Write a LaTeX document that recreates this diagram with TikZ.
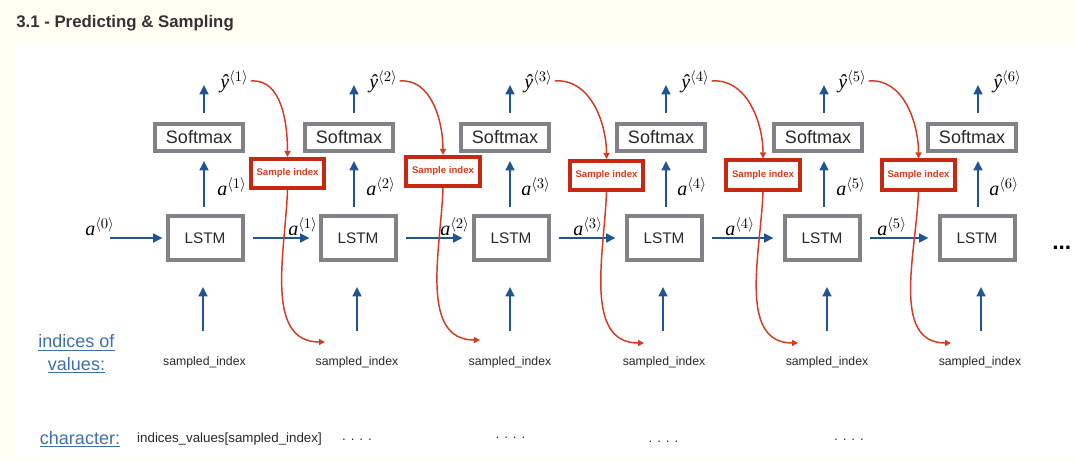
\documentclass[tikz,border=0pt]{standalone}
\usepackage{fontspec}
\setmainfont{Liberation Sans}
\newfontfamily\labelserif{Liberation Serif}
\usetikzlibrary{arrows.meta, positioning, calc}

\definecolor{pagecream}{RGB}{255,255,243}
\definecolor{boxgray}{RGB}{128,130,136}
\definecolor{txtgray}{RGB}{40,40,40}
\definecolor{titlegray}{RGB}{51,51,51}
\definecolor{flowblue}{RGB}{33,85,145}
\definecolor{samplered}{RGB}{198,40,18}
\definecolor{curvered}{RGB}{214,58,34}
\definecolor{linkblue}{RGB}{62,112,172}

\newcommand{\stepvar}[2]{{\labelserif\itshape #1}$^{\langle #2\rangle}$}

\begin{document}
\begin{tikzpicture}[
    x=0.75pt, y=-0.75pt,
    cell/.style={rectangle, draw=boxgray, line width=3pt, minimum width=56.25pt, minimum height=33pt, inner sep=0pt, text=txtgray, font=\fontsize{11.5}{13}\selectfont},
    softmax/.style={rectangle, draw=boxgray, line width=3pt, minimum width=66pt, minimum height=20.25pt, inner sep=0pt, text=txtgray, font=\fontsize{13.5}{15}\selectfont},
    sampler/.style={rectangle, draw=samplered, line width=2.8pt, minimum width=55pt, minimum height=22pt, inner sep=0pt, text=curvered, font=\bfseries\fontsize{7.2}{8}\selectfont},
    mathlbl/.style={anchor=base west, inner sep=0pt, font=\fontsize{15}{17}\selectfont},
    idxlbl/.style={inner sep=0pt, text=txtgray, font=\fontsize{9.2}{11}\selectfont},
    linklbl/.style={inner sep=0pt, text=linkblue, font=\fontsize{13.5}{16.9}\selectfont},
    flow/.style={draw=flowblue, line width=2pt, -{Triangle[length=7pt,width=6.5pt]}},
    pick/.style={draw=curvered, line width=1.1pt, -{Triangle[length=4.5pt,width=4.5pt]}}
]

% page and panel
\useasboundingbox (0,0) rectangle (1075,461);
\fill[pagecream] (0,0) rectangle (1075,461);
\fill[white] (16,46) rectangle (1075,457);
\node (title) [anchor=base west, inner sep=0pt, text=titlegray, font=\bfseries\fontsize{12.6}{15}\selectfont] at (16,27.3) {3.1 - Predicting \& Sampling};

% cells
\node (lstm1) [cell] at (205,238) {LSTM};
\node (lstm2) [cell] at (358,238) {LSTM};
\node (lstm3) [cell] at (511,238) {LSTM};
\node (lstm4) [cell] at (664,238) {LSTM};
\node (lstm5) [cell] at (822,238) {LSTM};
\node (lstm6) [cell] at (977,238) {LSTM};

\node (sm1) [softmax] at (199,137.5) {Softmax};
\node (sm2) [softmax] at (349,137.5) {Softmax};
\node (sm3) [softmax] at (505,137.5) {Softmax};
\node (sm4) [softmax] at (661,137.5) {Softmax};
\node (sm5) [softmax] at (818,137.5) {Softmax};
\node (sm6) [softmax] at (972,137.5) {Softmax};

\node (samp1) [sampler] at (287.5,173.5) {Sample index};
\node (samp2) [sampler] at (443,171.5) {Sample index};
\node (samp3) [sampler] at (606.5,175.5) {Sample index};
\node (samp4) [sampler] at (763,175) {Sample index};
\node (samp5) [sampler] at (918.5,175) {Sample index};

% labels
\node (yh1) [mathlbl] at (220,88) {\stepvar{ŷ}{1}};
\node (yh2) [mathlbl] at (369,88) {\stepvar{ŷ}{2}};
\node (yh3) [mathlbl] at (524,88) {\stepvar{ŷ}{3}};
\node (yh4) [mathlbl] at (681,88) {\stepvar{ŷ}{4}};
\node (yh5) [mathlbl] at (838,88) {\stepvar{ŷ}{5}};
\node (yh6) [mathlbl] at (993,88) {\stepvar{ŷ}{6}};

\node (aup1) [mathlbl] at (217,195) {\stepvar{a}{1}};
\node (aup2) [mathlbl] at (366,195) {\stepvar{a}{2}};
\node (aup3) [mathlbl] at (521,195) {\stepvar{a}{3}};
\node (aup4) [mathlbl] at (677,195) {\stepvar{a}{4}};
\node (aup5) [mathlbl] at (836,195) {\stepvar{a}{5}};
\node (aup6) [mathlbl] at (989,195) {\stepvar{a}{6}};

\node (ah0) [mathlbl] at (85,235.7) {\stepvar{a}{0}};
\node (ah1) [mathlbl] at (288,235.7) {\stepvar{a}{1}};
\node (ah2) [mathlbl] at (440,235) {\stepvar{a}{2}};
\node (ah3) [mathlbl] at (573,235.7) {\stepvar{a}{3}};
\node (ah4) [mathlbl] at (725,235) {\stepvar{a}{4}};
\node (ah5) [mathlbl] at (877,235.7) {\stepvar{a}{5}};

\node (more) [anchor=base west, inner sep=0pt, font=\bfseries\fontsize{17}{20}\selectfont] at (1052,249.5) {...};

\node (si1) [idxlbl] at (204.5,362.5) {sampled\_index};
\node (si2) [idxlbl] at (357,362.5) {sampled\_index};
\node (si3) [idxlbl] at (510,362.5) {sampled\_index};
\node (si4) [idxlbl] at (664,362.5) {sampled\_index};
\node (si5) [idxlbl] at (827,362.5) {sampled\_index};
\node (si6) [idxlbl] at (980,362.5) {sampled\_index};

\node (idxhead) [linklbl, align=center] at (76.5,354) {\underline{indices of}\\\underline{values:}};
\node (charhead) [linklbl] at (80,439.5) {\underline{character:}};
\node (charval) [idxlbl, font=\fontsize{10}{12}\selectfont] at (229.5,439) {indices\_values[sampled\_index]};
\node (dots1) [idxlbl, font=\fontsize{10}{12}\selectfont] at (357,439.5) {. . . .};
\node (dots2) [idxlbl, font=\fontsize{10}{12}\selectfont] at (510.5,437.7) {. . . .};
\node (dots3) [idxlbl, font=\fontsize{10}{12}\selectfont] at (663.5,441.6) {. . . .};
\node (dots4) [idxlbl, font=\fontsize{10}{12}\selectfont] at (849,440) {. . . .};

% arrow ends
\coordinate (in0) at (110,238);
\coordinate (out1) at (204,85);
\coordinate (out2) at (354,85);
\coordinate (out3) at (510,85);
\coordinate (out4) at (666,85);
\coordinate (out5) at (824,85);
\coordinate (out6) at (978,85);
\coordinate (in1) at (203,331);
\coordinate (in2) at (357,331);
\coordinate (in3) at (510,331);
\coordinate (in4) at (663,331);
\coordinate (in5) at (827,331);
\coordinate (in6) at (981,331);
\coordinate (tip1) at (325,342);
\coordinate (tip2) at (480,340);
\coordinate (tip3) at (644,343);
\coordinate (tip4) at (798,343);
\coordinate (tip5) at (951,343);

% hidden state
\draw [flow, shorten >=2.25pt] (in0) -- (lstm1.west);
\draw [flow, shorten <=6pt, shorten >=6.75pt] (lstm1.east) -- (lstm2.west);
\draw [flow, shorten <=6pt, shorten >=6.75pt] (lstm2.east) -- (lstm3.west);
\draw [flow, shorten <=6pt, shorten >=6.75pt] (lstm3.east) -- (lstm4.west);
\draw [flow, shorten <=6pt, shorten >=6.75pt] (lstm4.east) -- (lstm5.west);
\draw [flow, shorten <=6pt, shorten >=6.75pt] (lstm5.east) -- (lstm6.west);

% up through each cell
\draw [flow, shorten <=5.25pt, shorten >=6pt] (out1 |- lstm1.north) -- (out1 |- sm1.south);
\draw [flow, shorten <=5.25pt, shorten >=6pt] (out2 |- lstm2.north) -- (out2 |- sm2.south);
\draw [flow, shorten <=5.25pt, shorten >=6pt] (out3 |- lstm3.north) -- (out3 |- sm3.south);
\draw [flow, shorten <=5.25pt, shorten >=6pt] (out4 |- lstm4.north) -- (out4 |- sm4.south);
\draw [flow, shorten <=5.25pt, shorten >=6pt] (out5 |- lstm5.north) -- (out5 |- sm5.south);
\draw [flow, shorten <=5.25pt, shorten >=6pt] (out6 |- lstm6.north) -- (out6 |- sm6.south);

\draw [flow, shorten <=6.75pt] (out1 |- sm1.north) -- (out1);
\draw [flow, shorten <=6.75pt] (out2 |- sm2.north) -- (out2);
\draw [flow, shorten <=6.75pt] (out3 |- sm3.north) -- (out3);
\draw [flow, shorten <=6.75pt] (out4 |- sm4.north) -- (out4);
\draw [flow, shorten <=6.75pt] (out5 |- sm5.north) -- (out5);
\draw [flow, shorten <=6.75pt] (out6 |- sm6.north) -- (out6);

\draw [flow, shorten >=18.75pt] (in1) -- (in1 |- lstm1.south);
\draw [flow, shorten >=18.75pt] (in2) -- (in2 |- lstm2.south);
\draw [flow, shorten >=18.75pt] (in3) -- (in3 |- lstm3.south);
\draw [flow, shorten >=18.75pt] (in4) -- (in4 |- lstm4.south);
\draw [flow, shorten >=18.75pt] (in5) -- (in5 |- lstm5.south);
\draw [flow, shorten >=18.75pt] (in6) -- (in6 |- lstm6.south);

% sampling
\draw [pick, shorten <=1.5pt] (yh1.east) to[out=5, in=90] (samp1.north);
\draw [pick, shorten <=1.5pt] (yh2.east) to[out=5, in=90] (samp2.north);
\draw [pick, shorten <=1.5pt] (yh3.east) to[out=5, in=90] (samp3.north);
\draw [pick, shorten <=1.5pt] (yh4.east) to[out=5, in=90] (samp4.north);
\draw [pick, shorten <=1.5pt] (yh5.east) to[out=5, in=90] (samp5.north);

\draw [pick] (samp1.south) to[out=-92, in=180] (tip1);
\draw [pick] (samp2.south) to[out=-92, in=180] (tip2);
\draw [pick] (samp3.south) to[out=-92, in=180] (tip3);
\draw [pick] (samp4.south) to[out=-92, in=180] (tip4);
\draw [pick] (samp5.south) to[out=-92, in=180] (tip5);

\end{tikzpicture}
\end{document}
